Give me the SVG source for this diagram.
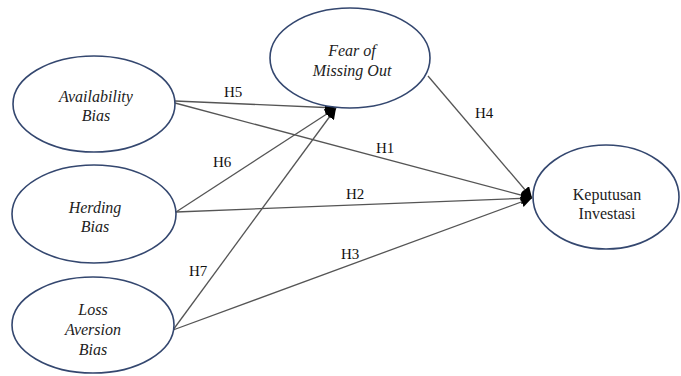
<svg xmlns="http://www.w3.org/2000/svg" width="681" height="376" viewBox="0 0 681 376" font-family="Liberation Serif, DejaVu Serif, serif">
<defs>
<style>
.node ellipse{fill:#fff;stroke:#34476f;stroke-width:1.6}
.t{font-size:16px;fill:#222;text-anchor:middle}
.i{font-style:italic}
.lbl{font-size:15px;fill:#111}
#connectors line{stroke:#555;stroke-width:1.3;marker-end:url(#ah)}
</style>
<marker id="ah" viewBox="0 0 10 10" refX="10" refY="5" markerWidth="11" markerHeight="11" markerUnits="userSpaceOnUse" orient="auto">
<path d="M0,0 L10,5 L0,10 z" fill="#000"/>
</marker>
</defs>
<rect width="681" height="376" fill="#fff"/>
<g id="connectors">
<line x1="175" y1="101" x2="336" y2="108"/>
<line x1="175" y1="103" x2="532" y2="198"/>
<line x1="176" y1="212" x2="336" y2="108"/>
<line x1="176" y1="212" x2="532" y2="198"/>
<line x1="173" y1="330" x2="336" y2="108"/>
<line x1="173" y1="330" x2="532" y2="198"/>
<line x1="428" y1="76" x2="532" y2="198"/>
</g>
<g id="labels">
<text class="lbl" x="224" y="97">H5</text>
<text class="lbl" x="376" y="153">H1</text>
<text class="lbl" x="213" y="167">H6</text>
<text class="lbl" x="346" y="199">H2</text>
<text class="lbl" x="189" y="276">H7</text>
<text class="lbl" x="341" y="259">H3</text>
<text class="lbl" x="475" y="118">H4</text>
</g>
<g id="availability" class="node">
<ellipse cx="94" cy="104" rx="81" ry="48"/>
<text class="t i" x="96" y="102">Availability</text>
<text class="t i" x="96" y="121">Bias</text>
</g>
<g id="herding" class="node">
<ellipse cx="94" cy="214" rx="82" ry="49"/>
<text class="t i" x="95" y="213">Herding</text>
<text class="t i" x="95" y="232">Bias</text>
</g>
<g id="loss" class="node">
<ellipse cx="93" cy="325" rx="81" ry="48"/>
<text class="t i" x="93" y="315">Loss</text>
<text class="t i" x="93" y="335">Aversion</text>
<text class="t i" x="93" y="355">Bias</text>
</g>
<g id="fomo" class="node">
<ellipse cx="350" cy="58" rx="80" ry="50"/>
<text class="t i" x="352" y="56">Fear of</text>
<text class="t i" x="352" y="76">Missing Out</text>
</g>
<g id="keputusan" class="node">
<ellipse cx="606" cy="197" rx="73" ry="52"/>
<text class="t" x="607" y="200">Keputusan</text>
<text class="t" x="607" y="219">Investasi</text>
</g>
</svg>
